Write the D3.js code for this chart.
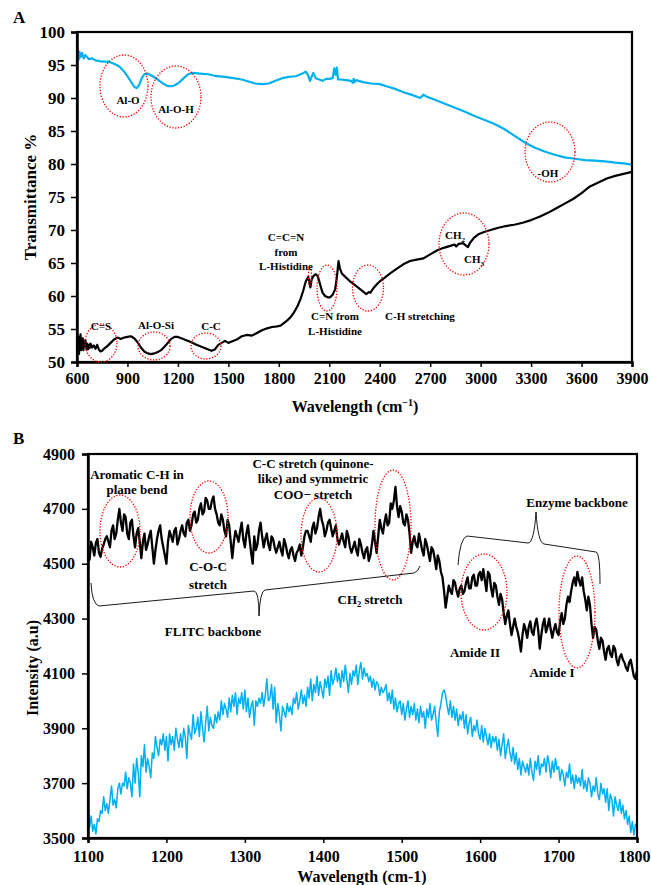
<!DOCTYPE html>
<html>
<head>
<meta charset="utf-8">
<script src="https://cdn.jsdelivr.net/npm/d3@7"></script>
<style>
html,body{margin:0;padding:0;background:#fff;}
svg{display:block;}
text{font-family:"Liberation Serif","Times New Roman",serif;font-weight:bold;fill:#000;}
</style>
</head>
<body>
<svg id="chart" width="651" height="885"></svg>
<script>
// ---------- Panel A data ----------
const aXTicks = [600,900,1200,1500,1800,2100,2400,2700,3000,3300,3600,3900];
const aYTicks = [50,55,60,65,70,75,80,85,90,95,100];

const aBlueWave = [600,605,610,615,620,630,640,650,670,690,710,730,760,790,820,850,880,900,920,940,955,970,985,1000,1020,1050,1080,1110,1140,1170,1200,1230,1260,1290,1330,1380,1430,1480,1530,1580,1620,1660,1700,1740,1780,1820,1860,1900,1940,1960,1975,1985,1995,2005,2020,2040,2060,2080,2100,2120,2130,2138,2145,2152,2170,2200,2230,2240,2245,2250,2260,2300,2350,2400,2450,2500,2550,2600,2640,2660,2680,2720,2780,2840,2900,2960,3020,3080,3140,3200,3260,3320,3380,3440,3500,3560,3620,3680,3740,3800,3850,3900];
const aBlueT = [96.2,97.3,95.8,97.0,96.2,96.8,96.0,96.5,95.9,96.0,95.7,95.6,95.5,95.5,95.2,94.8,94.0,93.3,92.5,91.7,91.5,92.0,93.0,93.6,93.7,93.3,92.8,92.2,91.8,91.8,92.2,92.9,93.6,93.8,93.7,93.6,93.3,93.2,93.0,92.8,92.5,92.2,92.1,92.2,92.6,93.0,93.2,93.3,93.7,94.0,93.4,92.6,93.2,93.8,93.0,92.8,92.6,92.9,92.9,93.0,94.5,93.5,94.6,92.8,92.8,92.7,92.6,92.3,92.9,92.4,92.7,92.4,92.2,92.1,91.7,91.3,90.8,90.4,90.0,90.5,90.2,89.8,89.2,88.6,88.0,87.3,86.7,86.1,85.3,84.3,83.3,82.5,81.9,81.4,81.0,80.8,80.6,80.5,80.4,80.2,80.1,79.9];

const aBlackWave = [600,603,606,609,612,615,618,621,624,627,630,634,638,642,646,650,655,660,665,670,675,680,690,700,710,720,730,740,750,760,780,800,820,840,860,880,900,920,940,960,980,1000,1020,1040,1060,1080,1100,1120,1140,1160,1180,1200,1220,1250,1280,1310,1340,1370,1400,1420,1440,1460,1480,1500,1520,1550,1580,1610,1640,1670,1700,1730,1760,1790,1810,1830,1850,1870,1890,1910,1930,1945,1960,1975,1982,1988,1995,2005,2020,2032,2045,2060,2075,2090,2105,2120,2135,2145,2155,2163,2175,2195,2220,2245,2270,2300,2320,2335,2345,2360,2380,2400,2430,2460,2500,2540,2580,2620,2660,2700,2740,2780,2820,2845,2855,2870,2895,2915,2925,2935,2960,2990,3020,3060,3100,3150,3200,3250,3300,3350,3400,3450,3500,3550,3600,3650,3700,3750,3800,3850,3900];
const aBlackT = [52.5,54.0,51.5,53.8,51.2,53.5,52.0,54.2,51.8,53.2,52.2,53.6,51.8,53.0,52.4,53.3,52.0,52.8,51.9,52.6,52.1,52.8,52.2,52.5,52.0,52.6,51.9,51.6,51.7,52.0,52.4,52.9,53.4,53.7,53.5,53.7,53.8,53.9,53.6,53.0,52.2,51.6,51.3,51.2,51.3,51.5,51.8,52.3,52.9,53.5,53.8,53.8,53.6,53.3,53.0,52.6,52.3,52.0,51.7,51.9,52.6,52.9,53.2,52.9,53.1,53.4,53.9,54.1,54.0,54.4,54.8,55.1,55.3,55.4,55.5,55.9,56.3,56.8,57.5,58.4,59.6,60.8,62.2,62.9,62.0,61.3,62.5,63.0,63.3,63.0,61.8,60.5,60.0,59.8,59.8,60.2,61.0,62.8,65.3,64.2,63.4,62.9,62.3,61.8,61.3,60.7,60.3,60.6,60.5,61.1,61.7,62.2,62.8,63.4,64.1,64.8,65.3,65.5,65.7,66.3,66.9,67.3,67.6,67.8,67.5,67.9,68.0,67.6,67.4,68.0,68.8,69.4,69.7,70.0,70.3,70.6,70.8,71.1,71.5,72.0,72.6,73.3,74.0,74.7,75.6,76.6,77.2,77.8,78.2,78.5,78.8];

// ---------- Panel B data ----------
const bXTicks = [1100,1200,1300,1400,1500,1600,1700,1800];
const bYTicks = [3500,3700,3900,4100,4300,4500,4700,4900];
const bStart = 1100;
const bStep = 2;   // wavelength grid (cm-1) of both B spectra
const bBlack = [
4540,4515,4580,4560,4530,4575,4590,4540,4525,4555,4570,4590,4600,4580,4560,4620,4640,4590,4610,4660,
4700,4650,4620,4680,4670,4610,4590,4650,4660,4600,4560,4610,4630,4580,4520,4580,4610,4550,4570,4600,
4620,4560,4500,4550,4590,4620,4640,4590,4560,4530,4500,4580,4620,4600,4580,4620,4630,4570,4590,4620,
4640,4610,4600,4650,4660,4620,4640,4680,4690,4650,4660,4700,4720,4680,4690,4740,4730,4700,4700,4730,
4745,4700,4680,4650,4640,4680,4660,4620,4600,4660,4640,4580,4520,4580,4620,4600,4580,4620,4650,4590,
4560,4610,4640,4590,4540,4500,4600,4550,4570,4620,4650,4600,4560,4590,4610,4570,4550,4600,4590,4560,
4540,4560,4580,4550,4530,4590,4570,4540,4520,4550,4560,4530,4510,4540,4550,4570,4530,4560,4600,4620,
4620,4600,4580,4630,4650,4610,4630,4670,4700,4660,4640,4600,4620,4650,4660,4630,4600,4620,4640,4590,
4570,4590,4610,4580,4560,4620,4600,4560,4540,4560,4580,4550,4530,4590,4570,4540,4520,4550,4560,4510,
4530,4570,4620,4580,4540,4600,4660,4630,4610,4650,4680,4640,4650,4720,4700,4730,4780,4710,4670,4710,
4690,4650,4640,4680,4660,4610,4540,4580,4600,4570,4560,4610,4580,4550,4530,4590,4570,4540,4510,4560,
4550,4520,4480,4530,4510,4470,4450,4400,4340,4380,4420,4400,4390,4440,4430,4400,4380,4410,4420,4390,
4400,4430,4450,4410,4410,4450,4460,4420,4420,4460,4470,4440,4480,4440,4400,4470,4460,4410,4380,4430,
4420,4380,4350,4390,4370,4320,4280,4310,4330,4280,4240,4270,4300,4270,4250,4220,4180,4240,4280,4260,
4230,4270,4290,4250,4240,4280,4300,4260,4190,4240,4280,4300,4250,4270,4300,4260,4230,4260,4280,4250,
4240,4290,4320,4280,4300,4350,4380,4360,4400,4430,4450,4420,4470,4440,4420,4450,4400,4370,4330,4380,
4350,4280,4230,4270,4260,4220,4190,4230,4220,4180,4150,4190,4200,4170,4160,4200,4190,4150,4130,4160,
4170,4150,4140,4120,4110,4140,4150,4120,4090,4080,4110];
const bBlue = [
3620,3540,3580,3525,3550,3515,3570,3560,3600,3590,
3650,3600,3625,3590,3640,3690,3620,3640,3610,3680,
3700,3660,3700,3690,3740,3680,3720,3700,3650,3770,
3700,3790,3740,3650,3800,3760,3840,3740,3790,3760,
3720,3810,3790,3870,3830,3800,3860,3840,3880,3820,
3870,3780,3880,3840,3870,3820,3900,3860,3830,3880,
3830,3900,3870,3790,3910,3880,3860,3950,3880,3900,
3940,3870,3960,3900,3850,3920,3980,3890,3940,3910,
3900,3950,3920,3960,3930,4000,3950,3990,3970,3940,
4010,3960,4020,3980,4030,3950,4010,3990,4030,3970,
4040,3960,4010,3940,3980,4000,3910,4000,3980,4010,
3990,4030,3980,4020,4080,4000,4010,4060,3970,4050,
3920,3990,3950,3890,3980,3960,3940,3990,3960,3980,
3950,4010,3990,4030,3970,4000,4040,3990,4020,3980,
4050,4010,4080,4000,4060,4030,4090,4020,4070,4040,
4010,4080,4050,4090,4020,4110,4060,4080,4120,4070,
4100,4050,4110,4070,4130,4080,4030,4100,4060,4110,
4090,4130,4060,4110,4140,4080,4120,4090,4100,4070,
4090,4050,4080,4040,4070,4060,4020,4050,4030,4040,
4060,4000,4030,3990,4040,3970,4010,3960,3990,4000,
3950,3990,3930,3970,4000,3940,3980,3950,3990,3930,
3970,3920,3980,3940,3960,3900,3970,3940,3990,3930,
3950,3980,3920,3870,3960,3990,4030,4040,4020,3980,
3950,4000,3940,3980,3930,3970,3910,3950,3930,3960,
3900,3950,3880,3920,3940,3870,3910,3890,3930,3880,
3860,3910,3850,3900,3870,3840,3880,3830,3870,3850,
3870,3820,3860,3800,3840,3880,3790,3830,3860,3810,
3780,3830,3770,3810,3750,3790,3730,3780,3760,3740,
3770,3730,3790,3740,3710,3780,3750,3800,3730,3770,
3760,3790,3740,3800,3770,3720,3780,3740,3790,3750,
3760,3710,3750,3730,3690,3740,3720,3770,3700,3730,
3680,3730,3700,3720,3690,3750,3680,3710,3670,3720,
3700,3650,3690,3670,3720,3660,3640,3700,3660,3680,
3630,3680,3600,3660,3640,3580,3650,3620,3600,3640,
3590,3620,3570,3600,3550,3580,3520,3560,3510,3550,
3540];

const BLUE = "#00B0F0";
const svg = d3.select("#chart");

// ---------- Panel A ----------
const xA = d3.scaleLinear().domain([600,3900]).range([77,632]);
const yA = d3.scaleLinear().domain([50,100]).range([362,32]);

function styleAxis(g){
  g.select(".domain").attr("stroke","#000").attr("stroke-width",2.5);
  g.selectAll(".tick line").attr("stroke","#000").attr("stroke-width",1.5);
  g.selectAll(".tick text").attr("font-family","Liberation Serif, serif").attr("font-weight","bold").attr("fill","#000");
}

const lineA = d3.line().x(d=>xA(d[0])).y(d=>yA(d[1]));
svg.append("path").datum(aBlueWave.map((w,i)=>[w,aBlueT[i]]))
  .attr("d",lineA).attr("fill","none").attr("stroke",BLUE).attr("stroke-width",2.2).attr("stroke-linejoin","round");
svg.append("path").datum(aBlackWave.map((w,i)=>[w,aBlackT[i]]))
  .attr("d",lineA).attr("fill","none").attr("stroke","#000").attr("stroke-width",2.2).attr("stroke-linejoin","round");

svg.append("rect").attr("x",77).attr("y",32).attr("width",555).attr("height",330)
  .attr("fill","none").attr("stroke","#000").attr("stroke-width",2.2);
svg.append("g").attr("transform","translate(0,362)")
  .call(d3.axisBottom(xA).tickValues(aXTicks).tickSize(5).tickPadding(6).tickFormat(d3.format("d")))
  .call(styleAxis).call(g=>g.selectAll(".tick text").attr("font-size",16));
svg.append("g").attr("transform","translate(77,0)")
  .call(d3.axisLeft(yA).tickValues(aYTicks).tickSize(6).tickPadding(6).tickFormat(d3.format("d")))
  .call(styleAxis).call(g=>g.selectAll(".tick text").attr("font-size",17));

svg.append("text").attr("x",13).attr("y",23).attr("font-size",17).text("A");
svg.append("text").attr("transform","translate(36,197) rotate(-90)").attr("text-anchor","middle").attr("font-size",17).text("Transmittance %");
const xl = svg.append("text").attr("x",355).attr("y",412).attr("text-anchor","middle").attr("font-size",16);
xl.append("tspan").text("Wavelength (cm");
xl.append("tspan").attr("font-size",10).attr("dy",-6).text("−1");
xl.append("tspan").attr("dy",6).text(")");

// ---------- Panel B ----------
const xB = d3.scaleLinear().domain([1100,1800]).range([88,637]);
const yB = d3.scaleLinear().domain([3500,4900]).range([838,454]);
const lineB = d3.line().x((d,i)=>xB(bStart+i*bStep)).y(d=>yB(d));

svg.append("path").datum(bBlue).attr("d",lineB).attr("fill","none").attr("stroke",BLUE).attr("stroke-width",1.5).attr("stroke-linejoin","round");
svg.append("path").datum(bBlack).attr("d",lineB).attr("fill","none").attr("stroke","#000").attr("stroke-width",2.3).attr("stroke-linejoin","round");

svg.append("rect").attr("x",88).attr("y",454).attr("width",549).attr("height",384)
  .attr("fill","none").attr("stroke","#000").attr("stroke-width",2.2);
svg.append("g").attr("transform","translate(0,838)")
  .call(d3.axisBottom(xB).tickValues(bXTicks).tickSize(5).tickPadding(8).tickFormat(d3.format("d")))
  .call(styleAxis)
  .call(g=>g.selectAll(".tick text").attr("font-size",16).attr("dx",d=>d===1800?-3:0));
svg.append("g").attr("transform","translate(88,0)")
  .call(d3.axisLeft(yB).tickValues(bYTicks).tickSize(6).tickPadding(7).tickFormat(d3.format("d")))
  .call(styleAxis).call(g=>g.selectAll(".tick text").attr("font-size",16));

svg.append("text").attr("x",13).attr("y",444).attr("font-size",17).text("B");
svg.append("text").attr("transform","translate(38,668) rotate(-90)").attr("text-anchor","middle").attr("font-size",16).text("Intensity (a.u)");
svg.append("text").attr("x",362).attr("y",882).attr("text-anchor","middle").attr("font-size",16).text("Wavelength (cm-1)");

// ---------- Annotations ----------
const ellipses = [
  [124,86,24,31],[176,97,25,31],[550,152,25,30],[101,343,16,19],[154,346,16,14],[206,346,15,13],
  [310,276,1.5,10],[327,288,10,23],[368,288,15.5,23],[464,244,25,31],
  [120,531,20,36],[209,517,19,36],[319,535,18,37],[393,525,18,55],[484,592,23,38],[577,612,18,56]
];
svg.append("g").selectAll("ellipse").data(ellipses).join("ellipse")
  .attr("cx",d=>d[0]).attr("cy",d=>d[1]).attr("rx",d=>d[2]).attr("ry",d=>d[3])
  .attr("fill","none").attr("stroke","#FF0000").attr("stroke-width",1.3).attr("stroke-dasharray","1.3,1.6");

function label(x,y,t,size,anchor){
  return svg.append("text").attr("x",x).attr("y",y).attr("text-anchor",anchor||"middle").attr("font-size",size).text(t);
}
function subLabel(x,y,main,sub,rest,size,anchor){
  const t = svg.append("text").attr("x",x).attr("y",y).attr("text-anchor",anchor||"middle").attr("font-size",size);
  t.append("tspan").text(main);
  t.append("tspan").attr("font-size",size*0.65).attr("dy",3).text(sub);
  if(rest) t.append("tspan").attr("dy",-3).text(rest);
  return t;
}
// Panel A labels
label(128,104,"Al-O",11);
label(176,113,"Al-O-H",11);
label(548,177,"-OH",11);
label(101,330,"C=S",11);
label(156,329,"Al-O-Si",11);
label(211,330,"C-C",11);
label(286,241,"C=C=N",11);
label(286,256,"from",11);
label(286,270,"L-Histidine",11);
label(335,320,"C=N from",11);
label(335,335,"L-Histidine",11);
label(420,320,"C-H stretching",11);
subLabel(445,239,"CH","2",null,11,"start");
subLabel(464,263,"CH","3",null,11,"start");

// Panel B labels
label(137,479,"Aromatic C-H in",13);
label(137,494,"plane bend",13);
label(208,571,"C-O-C",13);
label(208,589,"stretch",13);
label(313,468,"C-C stretch (quinone-",13);
label(313,483,"like) and symmetric",13);
label(313,499,"COO\u2212 stretch",13);
label(213,636,"FLITC backbone",13);
subLabel(370,604,"CH","2"," stretch",13);
label(577,507,"Enzyme backbone",13);
label(475,657,"Amide II",13);
label(552,677,"Amide I",13);

// Brackets
svg.append("path")
  .attr("d","M91,583 Q92,604 99,606 L254,591 Q259,591 259,616 Q260,591 265,590 L414,573 Q418,572 420,566")
  .attr("fill","none").attr("stroke","#000").attr("stroke-width",0.9);
svg.append("path")
  .attr("d","M458,565 Q460,538 467,536 L528,543 Q534,543 536,512 Q538,543 544,544 L596,552 Q600,553 600,584")
  .attr("fill","none").attr("stroke","#000").attr("stroke-width",0.9);
</script>
</body>
</html>
